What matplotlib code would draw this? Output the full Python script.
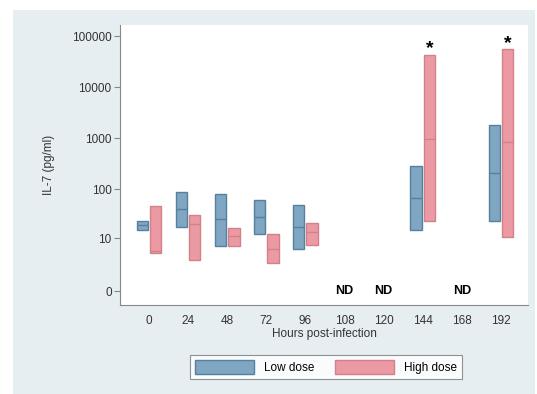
import numpy as np
import matplotlib.pyplot as plt
from matplotlib.patches import Patch, Rectangle

plt.rcParams.update({"font.family": ["Liberation Sans", "DejaVu Sans"]})

hours = ["0", "24", "48", "72", "96", "108", "120", "144", "168", "192"]

# low dose: (lower, median, upper); None = not detected
low_lo = [14.8, 17.2, 6.6, 12.2, 5.6, None, None, 15.2, None, 22.4]
low_med = [18.5, 39.7, 24.7, 27.2, 17.2, None, None, 67, None, 208]
low_hi = [23.0, 88, 78.4, 59.3, 48, None, None, 281, None, 1777]

high_lo = [4.5, 3.1, 6.6, 2.6, 6.9, None, None, 22.4, None, 10.5]
high_med = [5.2, 19.4, 11.0, 5.6, 13.5, None, None, 976, None, 850]
high_hi = [45.8, 30.6, 16.4, 12.2, 20.9, None, None, 43650, None, 56230]

signif = ["144", "192"]

BLUE, BLUE_E = "#7fa6c2", "#56809e"
RED, RED_E = "#eb9aa3", "#d4808b"
BG = "#e6eef2"
TXT = "#333333"

fig = plt.figure(figsize=(5.37, 3.94), dpi=100)
bg = Rectangle((13 / 537, 0), 522 / 537, 384 / 394, transform=fig.transFigure,
               facecolor=BG, edgecolor="none", zorder=-10)
fig.patches.append(bg)
ax = fig.add_axes([120 / 537, 1 - 305 / 394, 408 / 537, 280 / 394])
ax.set_zorder(1)

fwd = lambda v: np.log10(np.asarray(v, dtype=float) + 1)
inv = lambda t: 10 ** np.asarray(t, dtype=float) - 1
ax.set_yscale("function", functions=(fwd, inv))

x = np.arange(len(hours))
w = 0.29
for i, h in enumerate(hours):
    if low_lo[i] is None:
        ax.text(i, 0, "ND", ha="center", va="center", fontsize=9, fontweight="bold")
        continue
    ax.bar(i - 0.17, low_hi[i] - low_lo[i], bottom=low_lo[i], width=w,
           color=BLUE, edgecolor=BLUE_E, linewidth=1.0, zorder=3)
    ax.hlines(low_med[i], i - 0.17 - w / 2, i - 0.17 + w / 2, color=BLUE_E, lw=1.0, zorder=4)
    ax.bar(i + 0.17, high_hi[i] - high_lo[i], bottom=high_lo[i], width=w,
           color=RED, edgecolor=RED_E, linewidth=1.0, zorder=3)
    ax.hlines(high_med[i], i + 0.17 - w / 2, i + 0.17 + w / 2, color=RED_E, lw=1.0, zorder=4)
    if h in signif:
        ax.annotate("*", (i + 0.17, high_hi[i]), xytext=(0, -2), textcoords="offset points",
                    ha="center", va="bottom", fontsize=14, fontweight="bold")

ax.set_xlim(-0.74, 9.69)
ax.set_ylim(inv(-0.27), inv(5.22))
ax.set_xticks(x)
ax.set_xticklabels(hours, fontsize=8.5, color=TXT)
ax.set_yticks([0, 10, 100, 1000, 10000, 100000])
ax.set_yticklabels(["0", "10", "100", "1000", "10000", "100000"], fontsize=8.5, color=TXT)
ax.minorticks_off()
ax.tick_params(axis="x", length=0, pad=7)
ax.tick_params(axis="y", length=4, color="#888888", pad=2)
ax.set_xlabel("Hours post-infection", fontsize=8.5, color=TXT, labelpad=1)
ax.set_ylabel("IL-7 (pg/ml)", fontsize=8.5, color=TXT, labelpad=12)
for s in ["top", "right"]:
    ax.spines[s].set_visible(False)
for s in ["left", "bottom"]:
    ax.spines[s].set_color("#888888")

handles = [Patch(facecolor=BLUE, edgecolor=BLUE_E, label="Low dose"),
           Patch(facecolor=RED, edgecolor=RED_E, label="High dose")]
leg = fig.legend(handles=handles, loc="center", bbox_to_anchor=(326 / 537, 1 - 367 / 394),
                 ncol=2, fontsize=8.5, handlelength=5.0, handleheight=1.4, columnspacing=1.8,
                 fancybox=False, edgecolor="#777777", borderpad=0.45, handletextpad=0.8)
leg.get_frame().set_linewidth(0.8)

fig.savefig("out.png", dpi=100, facecolor="white")
